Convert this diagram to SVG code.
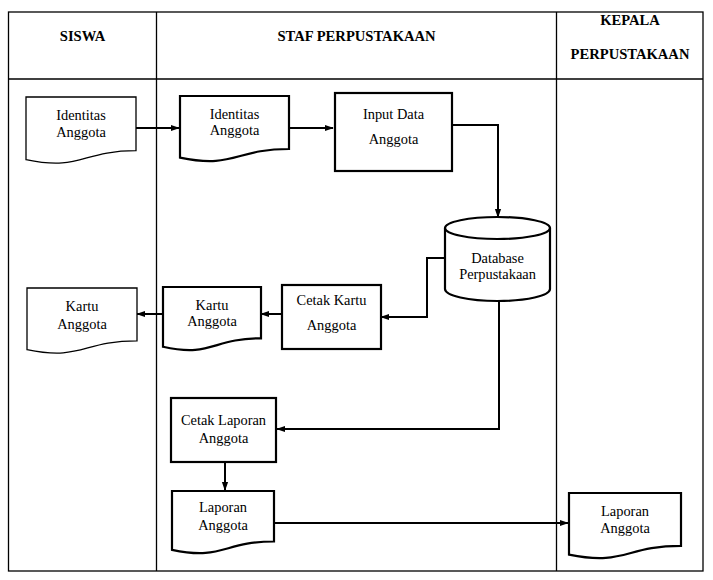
<svg xmlns="http://www.w3.org/2000/svg" width="713" height="580" viewBox="0 0 713 580">
<style>
.grid{fill:none;stroke:#000;stroke-width:1.3}
.th{font-family:"Liberation Serif","Times New Roman",serif;font-weight:bold;font-size:14.6px;text-anchor:middle;fill:#000}
.t{font-family:"Liberation Serif","Times New Roman",serif;font-size:14.4px;text-anchor:middle;fill:#000}
.thin{fill:#fff;stroke:#000;stroke-width:1.3}
.thick{fill:#fff;stroke:#000;stroke-width:2.2}
.conn{fill:none;stroke:#000;stroke-width:2}
</style>
<defs>
<marker id="ah" viewBox="0 0 10 10" refX="9" refY="5" markerWidth="4.5" markerHeight="4.5" orient="auto" markerUnits="strokeWidth">
<path d="M0,1.5 L10,5 L0,8.5 Z" fill="#000"/>
</marker>
</defs>
<rect width="713" height="580" fill="#fff"/>
<g id="table">
<rect class="grid" x="8.5" y="12" width="694.5" height="559"/>
<line class="grid" x1="8.5" y1="79" x2="703" y2="79"/>
<line class="grid" x1="156.5" y1="12" x2="156.5" y2="571"/>
<line class="grid" x1="556.5" y1="12" x2="556.5" y2="571"/>
<text class="th" x="82.5" y="41">SISWA</text>
<text class="th" x="356.5" y="41">STAF PERPUSTAKAAN</text>
<text class="th" x="630" y="25">KEPALA</text>
<text class="th" x="630" y="59">PERPUSTAKAAN</text>
</g>
<g id="connectors">
<path class="conn" d="M136,128 H179" marker-end="url(#ah)"/>
<path class="conn" d="M289,128 H333" marker-end="url(#ah)"/>
<path class="conn" d="M452,125 H498 V217" marker-end="url(#ah)"/>
<path class="conn" d="M445,258 H427 V317 H381" marker-end="url(#ah)"/>
<path class="conn" d="M282,314 H261" marker-end="url(#ah)"/>
<path class="conn" d="M163,314 H137" marker-end="url(#ah)"/>
<path class="conn" d="M499,301 V429 H277" marker-end="url(#ah)"/>
<path class="conn" d="M225,462 V490" marker-end="url(#ah)"/>
<path class="conn" d="M274,523 H568" marker-end="url(#ah)"/>
</g>
<g id="doc-identitas-siswa">
<path class="thin" d="M26,97 H136 V150.7 C81,150.7 81,171.2 26,159.6 Z"/>
<text class="t" x="81" y="120">Identitas</text>
<text class="t" x="81" y="136.5">Anggota</text>
</g>
<g id="doc-identitas-staf">
<path class="thick" d="M180,96 H289 V149 C234.5,149 234.5,169 180,157.6 Z"/>
<text class="t" x="234.5" y="119">Identitas</text>
<text class="t" x="234.5" y="135">Anggota</text>
</g>
<g id="input-data">
<rect class="thick" x="335" y="93" width="117" height="78"/>
<text class="t" x="393.5" y="119">Input Data</text>
<text class="t" x="393.5" y="144">Anggota</text>
</g>
<g id="database">
<path class="thick" d="M445,228 V289 A52.5,12 0 0 0 550,289 V228"/>
<ellipse class="thick" cx="497.5" cy="228" rx="52.5" ry="11"/>
<text class="t" x="497.5" y="263">Database</text>
<text class="t" x="497.5" y="279">Perpustakaan</text>
</g>
<g id="cetak-kartu">
<rect class="thick" x="282" y="285" width="99" height="64"/>
<text class="t" x="331.5" y="305">Cetak Kartu</text>
<text class="t" x="331.5" y="330">Anggota</text>
</g>
<g id="doc-kartu-staf">
<path class="thick" d="M163,287 H261 V338.3 C212,338.3 212,357.8 163,346.8 Z"/>
<text class="t" x="212" y="310">Kartu</text>
<text class="t" x="212" y="326">Anggota</text>
</g>
<g id="doc-kartu-siswa">
<path class="thin" d="M27,288 H137 V340.9 C82,340.9 82,361 27,349.6 Z"/>
<text class="t" x="82" y="310.5">Kartu</text>
<text class="t" x="82" y="329">Anggota</text>
</g>
<g id="cetak-laporan">
<rect class="thick" x="171" y="398" width="105" height="64"/>
<text class="t" x="223.5" y="425">Cetak Laporan</text>
<text class="t" x="223.5" y="443">Anggota</text>
</g>
<g id="doc-laporan-staf">
<path class="thick" d="M172,491 H274 V541.5 C223,541.5 223,560.7 172,549.8 Z"/>
<text class="t" x="223" y="512">Laporan</text>
<text class="t" x="223" y="530">Anggota</text>
</g>
<g id="doc-laporan-kepala">
<path class="thick" d="M569,493 H681 V545.9 C625,545.9 625,566 569,554.6 Z"/>
<text class="t" x="625" y="516">Laporan</text>
<text class="t" x="625" y="532.5">Anggota</text>
</g>
</svg>
